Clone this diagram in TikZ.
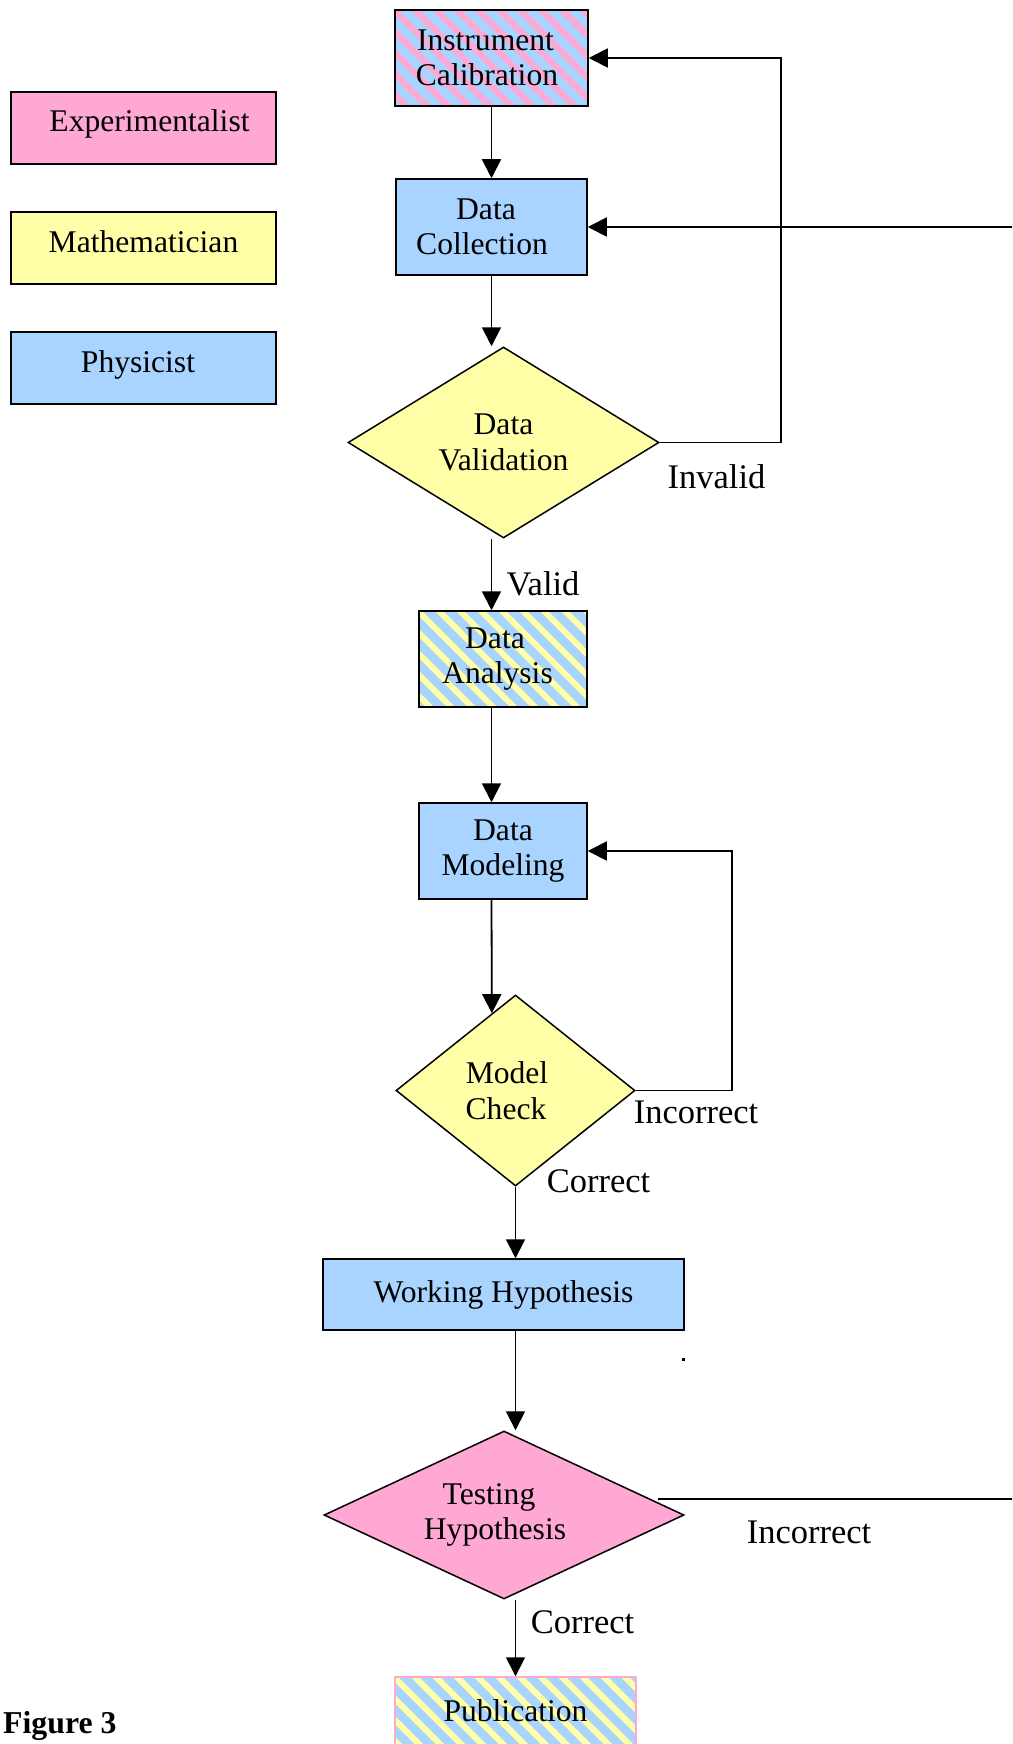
\documentclass[tikz,border=0pt]{standalone}
\usepackage{fontspec}
\setmainfont{Liberation Serif}
\usetikzlibrary{shapes.geometric,arrows.meta,calc}
\definecolor{cpink}{RGB}{255,168,212}
\definecolor{cyellow}{RGB}{255,255,168}
\definecolor{cblue}{RGB}{168,212,255}
\tikzset{
  boxfont/.style={font=\fontsize{31.6}{35.5}\selectfont},
  lblfont/.style={font=\fontsize{34.5}{38}\selectfont},
  procbox/.style={draw=black, line width=1.5pt, rectangle, inner sep=0pt, align=center, boxfont},
  decbox/.style={draw=black, line width=1.5pt, diamond, inner sep=0pt, align=center, boxfont},
  legendbox/.style={procbox, minimum width=265pt, minimum height=72pt, text height=22pt, text depth=14pt},
  stripefill/.style 2 args={path picture={
      \fill[#1] (path picture bounding box.south west) rectangle (path picture bounding box.north east);
      \coordinate (spnw) at (path picture bounding box.north west);
      \foreach \s in {-200,-179,...,300}{
        \draw[#2, line width=6pt] ($(spnw)+(\s,-10)$) -- ++(300,300);
      }}},
  conn/.style={line width=1.8pt, -{Triangle[length=19pt,width=19pt]}},
  lbl/.style={lblfont, anchor=base, inner sep=0pt},
}
\begin{document}
\begin{tikzpicture}[x=1pt,y=-1pt]
\path[use as bounding box] (0,0) rectangle (1012,1744);
\begin{scope}
\clip (0,0) rectangle (1012,1744);
% legend
\node[legendbox, fill=cpink] (lexp) at (143.5,128) {\hspace*{12pt}Experimentalist};
\node[legendbox, fill=cyellow] (lmat) at (143.5,248) {Mathematician};
\node[legendbox, fill=cblue] (lphy) at (143.5,368) {Physicist\hspace*{11pt}};
% flow
\node[procbox, stripefill={cblue}{cpink}, minimum width=193pt, minimum height=96pt] (ic) at (491.5,58) {Instrument\hspace*{12pt}\\Calibration\hspace*{9pt}};
\node[procbox, fill=cblue, minimum width=191pt, minimum height=96pt] (dc) at (491.5,227) {Data\hspace*{11pt}\\Collection\hspace*{19pt}};
\node[decbox, aspect=1.63, fill=cyellow, minimum width=311pt, minimum height=191pt] (dv) at (503.5,442.5) {Data\\Validation};
\node[procbox, stripefill={cblue}{cyellow}, minimum width=168pt, minimum height=96pt] (da) at (503,659) {Data\hspace*{16pt}\\Analysis\hspace*{11pt}};
\node[procbox, fill=cblue, minimum width=168pt, minimum height=96pt] (dm) at (503,851) {Data\\Modeling};
\node[decbox, aspect=1.25, fill=cyellow, minimum width=239pt, minimum height=191pt] (mc) at (515.5,1090.5) {Model\hspace*{17pt}\\Check\hspace*{19pt}};
\node[procbox, fill=cblue, minimum width=361pt, minimum height=71pt] (wh) at (503.5,1294.5) {Working Hypothesis};
\node[decbox, aspect=2.14, fill=cpink, minimum width=360pt, minimum height=168pt] (th) at (504,1515) {Testing\hspace*{30pt}\\Hypothesis\hspace*{18pt}};
\node[procbox, draw=cpink, stripefill={cblue}{cyellow}, minimum width=241pt, minimum height=68pt] (pub) at (515.5,1711) {Publication};
% connectors
\draw[conn] (ic.south) -- (dc.north);
\draw[conn] (dc.south) -- (dc.south |- dv.north);
\draw[conn] (dc.south |- dv.south) -- (dc.south |- da.north);
\draw[conn] (dc.south |- da.south) -- (dc.south |- dm.north);
\draw[conn] (dc.south |- dm.south) -- ($(mc.north)!0.1967!(mc.west)$);
\draw[conn] (dv.east) -- ++(121,0) |- (ic.east);
\draw[conn] (mc.east) -- ++(96,0) |- (dm.east);
\draw[conn] (mc.south) -- (mc.south |- wh.north);
\draw[conn] (mc.south |- wh.south) -- (mc.south |- th.north);
\draw[conn] (mc.south |- th.south) -- (mc.south |- pub.north);
\draw[conn] ($(th.north)!0.81!(th.east)+(8,0)$) -- ++(450,0) |- (dc.east);
% labels
\node[lbl] (linv) at (716.5,488) {Invalid};
\node[lbl] (lval) at (543,595) {Valid};
\node[lbl] (linc1) at (696,1123) {Incorrect};
\node[lbl] (lcor1) at (598.5,1192) {Correct};
\node[lbl] (linc2) at (809,1543) {Incorrect};
\node[lbl] (lcor2) at (582.5,1633) {Correct};
\node[font=\bfseries\fontsize{31.8}{34}\selectfont, anchor=base west, inner sep=0pt] (fig) at (3,1733) {Figure 3};
\node[fill=black, inner sep=0pt, minimum size=2.5pt] (dot) at (683.5,1359.5) {};
\end{scope}
\end{tikzpicture}
\end{document}
